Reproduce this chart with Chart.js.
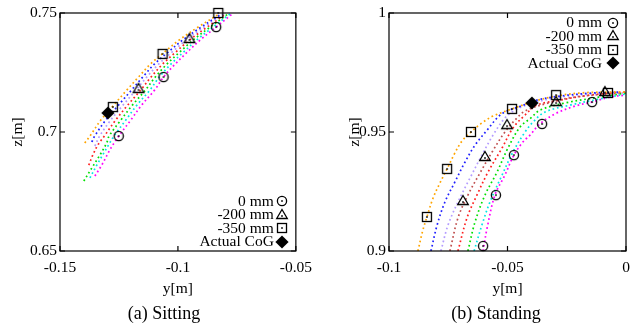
<!DOCTYPE html>
<html><head><meta charset="utf-8">
<script src="https://cdn.jsdelivr.net/npm/chart.js@4.4.1/dist/chart.umd.min.js"></script>
<style>
html,body{margin:0;padding:0;background:#fff;}
#wrap{position:relative;width:638px;height:326px;overflow:hidden;background:#fff;}
canvas{position:absolute;top:0;}
.cap{position:absolute;top:302px;width:200px;text-align:center;font:18px 'Liberation Serif',serif;line-height:22px;color:#000;}
</style></head><body>
<div id="wrap">
<canvas id="c1" width="320" height="326" style="left:0"></canvas>
<canvas id="c2" width="318" height="326" style="left:320px"></canvas>
<div class="cap" style="left:64px">(a) Sitting</div>
<div class="cap" style="left:396px">(b) Standing</div>
</div>
<script>
// ---- tick values and labels ----
const sitXTicks = [-0.15, -0.1, -0.05];
const sitXLabels = ['-0.15', '-0.1', '-0.05'];
const sitYTicks = [0.65, 0.7, 0.75];
const sitYLabels = ['0.65', '0.7', '0.75'];
const standXTicks = [-0.1, -0.05, 0];
const standXLabels = ['-0.1', '-0.05', '0'];
const standYTicks = [0.9, 0.95, 1];
const standYLabels = ['0.9', '0.95', '1'];
const legendLabels = ['0 mm', '-200 mm', '-350 mm', 'Actual CoG'];

// ---- (a) Sitting: trajectories [y, z] ----
const sitOrange = [[-0.1395,0.6954],[-0.1373,0.6983],[-0.1327,0.7050],[-0.1272,0.7113],[-0.1217,0.7176],[-0.1167,0.7231],[-0.1116,0.7286],[-0.1057,0.7336],[-0.0994,0.7387],[-0.0914,0.7441],[-0.0825,0.7496]];
const sitBlue = [[-0.1365,0.6958],[-0.1353,0.6983],[-0.1306,0.7050],[-0.1252,0.7113],[-0.1197,0.7176],[-0.1149,0.7231],[-0.1099,0.7286],[-0.1041,0.7336],[-0.0979,0.7387],[-0.0901,0.7441],[-0.0816,0.7496]];
const sitLavender = [[-0.1352,0.6941],[-0.1332,0.6983],[-0.1285,0.7050],[-0.1233,0.7113],[-0.1178,0.7176],[-0.1132,0.7231],[-0.1081,0.7286],[-0.1025,0.7336],[-0.0964,0.7387],[-0.0889,0.7441],[-0.0807,0.7496]];
const sitRed = [[-0.1378,0.6861],[-0.1361,0.6903],[-0.1340,0.6945],[-0.1312,0.6983],[-0.1264,0.7050],[-0.1213,0.7113],[-0.1158,0.7176],[-0.1114,0.7231],[-0.1064,0.7286],[-0.1009,0.7336],[-0.0950,0.7387],[-0.0876,0.7441],[-0.0797,0.7496]];
const sitGreen = [[-0.1399,0.6794],[-0.1365,0.6849],[-0.1331,0.6903],[-0.1302,0.6954],[-0.1292,0.6983],[-0.1242,0.7050],[-0.1193,0.7113],[-0.1138,0.7176],[-0.1096,0.7231],[-0.1046,0.7286],[-0.0992,0.7336],[-0.0935,0.7387],[-0.0863,0.7441],[-0.0788,0.7496]];
const sitCyan = [[-0.1373,0.6807],[-0.1344,0.6861],[-0.1314,0.6912],[-0.1289,0.6954],[-0.1271,0.6983],[-0.1221,0.7050],[-0.1174,0.7113],[-0.1119,0.7176],[-0.1079,0.7231],[-0.1029,0.7286],[-0.0976,0.7336],[-0.0920,0.7387],[-0.0851,0.7441],[-0.0779,0.7496]];
const sitMagenta = [[-0.1352,0.6815],[-0.1323,0.6861],[-0.1289,0.6924],[-0.1268,0.6958],[-0.1251,0.6983],[-0.1200,0.7050],[-0.1154,0.7113],[-0.1099,0.7176],[-0.1061,0.7231],[-0.1011,0.7286],[-0.0960,0.7336],[-0.0905,0.7387],[-0.0838,0.7441],[-0.0770,0.7496]];
// markers
const sit0mm = [[-0.1251,0.6983],[-0.1061,0.7231],[-0.0838,0.7441]];
const sit200mm = [[-0.1167,0.7181],[-0.0951,0.7391]];
const sit350mm = [[-0.1276,0.7105],[-0.1065,0.7328],[-0.0829,0.7500]];
const sitCoG = [[-0.1297,0.7080]];

// ---- (b) Standing: trajectories [y, z] ----
const standOrange = [[-0.0878,0.9000],[-0.0857,0.9088],[-0.0840,0.9143],[-0.0814,0.9223],[-0.0785,0.9286],[-0.0755,0.9345],[-0.0722,0.9412],[-0.0692,0.9462],[-0.0654,0.9500],[-0.0608,0.9538],[-0.0561,0.9567],[-0.0481,0.9597],[-0.0384,0.9630],[-0.0295,0.9651],[-0.0194,0.9664],[-0.0076,0.9668],[-0.0004,0.9668]];
const standBlue = [[-0.0823,0.9000],[-0.0797,0.9109],[-0.0764,0.9206],[-0.0722,0.9290],[-0.0679,0.9374],[-0.0637,0.9445],[-0.0586,0.9508],[-0.0540,0.9563],[-0.0511,0.9584],[-0.0443,0.9609],[-0.0376,0.9634],[-0.0278,0.9651],[-0.0139,0.9664],[-0.0025,0.9668]];
const standLavender = [[-0.0781,0.9000],[-0.0751,0.9109],[-0.0709,0.9206],[-0.0658,0.9307],[-0.0608,0.9403],[-0.0561,0.9487],[-0.0511,0.9559],[-0.0468,0.9592],[-0.0405,0.9618],[-0.0300,0.9643],[-0.0152,0.9660],[-0.0017,0.9664]];
const standBrown = [[-0.0743,0.9000],[-0.0709,0.9139],[-0.0667,0.9235],[-0.0616,0.9328],[-0.0565,0.9416],[-0.0511,0.9500],[-0.0460,0.9559],[-0.0426,0.9588],[-0.0342,0.9618],[-0.0215,0.9647],[-0.0013,0.9664]];
const standRed = [[-0.0709,0.9000],[-0.0671,0.9139],[-0.0629,0.9235],[-0.0582,0.9332],[-0.0523,0.9433],[-0.0477,0.9517],[-0.0426,0.9571],[-0.0376,0.9613],[-0.0278,0.9634],[-0.0152,0.9655],[-0.0004,0.9668]];
const standGreen = [[-0.0667,0.9000],[-0.0637,0.9122],[-0.0595,0.9235],[-0.0544,0.9332],[-0.0498,0.9433],[-0.0447,0.9521],[-0.0401,0.9559],[-0.0363,0.9592],[-0.0257,0.9622],[-0.0110,0.9647],[0.0000,0.9664]];
const standCyan = [[-0.0641,0.9000],[-0.0608,0.9109],[-0.0574,0.9206],[-0.0523,0.9319],[-0.0477,0.9416],[-0.0426,0.9500],[-0.0392,0.9542],[-0.0342,0.9584],[-0.0236,0.9613],[-0.0110,0.9639],[0.0000,0.9660]];
const standMagenta = [[-0.0603,0.9000],[-0.0586,0.9097],[-0.0553,0.9235],[-0.0511,0.9319],[-0.0473,0.9403],[-0.0435,0.9458],[-0.0405,0.9487],[-0.0363,0.9534],[-0.0300,0.9576],[-0.0215,0.9609],[-0.0143,0.9626],[-0.0068,0.9647],[0.0000,0.9655]];
// markers
const stand0mm = [[-0.0603,0.9021],[-0.0549,0.9235],[-0.0473,0.9403],[-0.0354,0.9534],[-0.0143,0.9626]];
const stand200mm = [[-0.0688,0.9210],[-0.0595,0.9395],[-0.0502,0.9529],[-0.0295,0.9626],[-0.0089,0.9668]];
const stand350mm = [[-0.0840,0.9143],[-0.0755,0.9345],[-0.0654,0.9500],[-0.0481,0.9597],[-0.0295,0.9655],[-0.0076,0.9664]];
const standCoG = [[-0.0397,0.9622]];

const sitCurves = [sitOrange, sitBlue, sitLavender, sitRed, sitGreen, sitCyan, sitMagenta];
const sitColors = ['#ffa500', '#2020ff', '#b49cff', '#ff2020', '#00e000', '#00e6e6', '#ff00ff'];
const standCurves = [standOrange, standBlue, standLavender, standBrown, standRed, standGreen, standCyan, standMagenta];
const standColors = ['#ffa500', '#2020ff', '#b49cff', '#c05050', '#ff2020', '#00e000', '#00e6e6', '#ff00ff'];

const FONT = "'Liberation Serif', 'Times New Roman', serif";

// ---- marker images ----
function marker(kind) {
  const c = document.createElement('canvas');
  c.width = 16; c.height = 16;
  const g = c.getContext('2d');
  g.strokeStyle = '#000'; g.fillStyle = '#000'; g.lineWidth = 1.3;
  const m = 8;
  if (kind === 'circle') {
    g.beginPath(); g.arc(m, m, 4.6, 0, Math.PI * 2); g.stroke();
    g.fillRect(m - 0.8, m - 0.8, 1.6, 1.6);
  } else if (kind === 'triangle') {
    g.beginPath(); g.moveTo(m, 2.5); g.lineTo(m + 5.3, 11.5); g.lineTo(m - 5.3, 11.5); g.closePath(); g.stroke();
    g.fillRect(m - 0.8, m + 0.2, 1.6, 1.6);
  } else if (kind === 'square') {
    g.strokeRect(m - 4.5, m - 4.5, 9, 9);
    g.fillRect(m - 0.8, m - 0.8, 1.6, 1.6);
  } else {
    g.beginPath(); g.moveTo(m, 1.4); g.lineTo(m + 6.6, m); g.lineTo(m, 14.6); g.lineTo(m - 6.6, m); g.closePath(); g.fill();
  }
  return c;
}
const markerStyles = [marker('circle'), marker('triangle'), marker('square'), marker('diamond')];

function curveSets(curves, colors) {
  return curves.map((d, i) => ({
    data: d, showLine: true, borderColor: colors[i], borderWidth: 1.7,
    borderDash: [1.7, 2.8], borderCapStyle: 'butt', tension: 0.35,
    pointRadius: 0, fill: false, order: 1
  }));
}
function markerSets(list) {
  return list.map((d, i) => ({
    label: legendLabels[i], inLegend: true, data: d, showLine: false,
    pointStyle: markerStyles[i], pointRadius: 6, clip: false, order: 0
  }));
}

const framePlugin = {
  id: 'frame',
  afterDraw(chart, args, o) {
    const { ctx, chartArea: a } = chart;
    const x = chart.scales.x, y = chart.scales.y;
    ctx.save();
    ctx.strokeStyle = '#000'; ctx.lineWidth = 1.2;
    ctx.strokeRect(a.left, a.top, a.right - a.left, a.bottom - a.top);
    ctx.beginPath();
    x.ticks.forEach(t => {
      const p = x.getPixelForValue(t.value);
      ctx.moveTo(p, a.bottom); ctx.lineTo(p, a.bottom - 5);
      ctx.moveTo(p, a.top); ctx.lineTo(p, a.top + 5);
    });
    y.ticks.forEach(t => {
      const p = y.getPixelForValue(t.value);
      ctx.moveTo(a.left, p); ctx.lineTo(a.left + 5, p);
      ctx.moveTo(a.right, p); ctx.lineTo(a.right - 5, p);
    });
    ctx.stroke();
    // legend
    ctx.font = '15.5px ' + FONT; ctx.fillStyle = '#000';
    ctx.textAlign = 'right'; ctx.textBaseline = 'middle';
    const items = chart.data.datasets.filter(d => d.inLegend);
    items.forEach((d, i) => {
      const yy = o.anchor === 'top' ? a.top + o.first + i * o.step
                                    : a.bottom - o.first - (items.length - 1 - i) * o.step;
      ctx.fillText(d.label, a.right - o.textGap, yy + 0.5);
      const img = d.pointStyle;
      ctx.drawImage(img, Math.round(a.right - o.markGap - img.width / 2), Math.round(yy - img.height / 2));
    });
    ctx.restore();
  }
};

function build(id, datasets, xr, yr, xt, xl, yt, yl, pad, yW, yTitlePad, leg) {
  return new Chart(document.getElementById(id), {
    type: 'scatter',
    data: { datasets },
    plugins: [framePlugin],
    options: {
      responsive: false, animation: false, events: [],
      layout: { padding: pad },
      plugins: { legend: { display: false }, tooltip: { enabled: false }, frame: leg },
      scales: {
        x: {
          type: 'linear', min: xr[0], max: xr[1],
          afterBuildTicks: s => { s.ticks = xt.map(v => ({ value: v })); },
          afterFit: s => { s.height = 75; },
          grid: { display: false, drawTicks: false }, border: { display: false },
          ticks: { color: '#000', padding: 8, maxRotation: 0, font: { family: FONT, size: 15.5 },
                   callback: (v, i) => xl[i] },
          title: { display: true, text: 'y[m]', color: '#000', font: { family: FONT, size: 15.5 },
                   padding: { top: 0, bottom: 28 } }
        },
        y: {
          type: 'linear', min: yr[0], max: yr[1],
          afterBuildTicks: s => { s.ticks = yt.map(v => ({ value: v })); },
          afterFit: s => { s.width = yW; },
          grid: { display: false, drawTicks: false }, border: { display: false },
          ticks: { color: '#000', padding: 3, font: { family: FONT, size: 15.5 },
                   callback: (v, i) => yl[i] },
          title: { display: true, text: 'z[m]', color: '#000', font: { family: FONT, size: 15.5 },
                   padding: { top: yTitlePad, bottom: 0 } }
        }
      }
    }
  });
}

build('c1',
  markerSets([sit0mm, sit200mm, sit350mm, sitCoG]).concat(curveSets(sitCurves, sitColors)),
  [-0.15, -0.05], [0.65, 0.75], sitXTicks, sitXLabels, sitYTicks, sitYLabels,
  { left: 0, right: 23, top: 13, bottom: 0 }, 60, 9,
  { anchor: 'bottom', first: 9.5, step: 13.5, textGap: 22, markGap: 14 });

build('c2',
  markerSets([stand0mm, stand200mm, stand350mm, standCoG]).concat(curveSets(standCurves, standColors)),
  [-0.1, 0], [0.9, 1], standXTicks, standXLabels, standYTicks, standYLabels,
  { left: 0, right: 12, top: 13, bottom: 0 }, 69, 26,
  { anchor: 'top', first: 9.7, step: 13.5, textGap: 24, markGap: 13 });
</script>
</body></html>
